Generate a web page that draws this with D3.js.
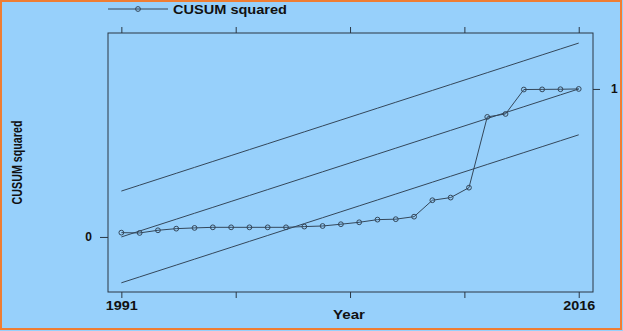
<!DOCTYPE html>
<html>
<head>
<meta charset="utf-8">
<script src="https://cdn.jsdelivr.net/npm/d3@7"></script>
<style>
  html, body { margin: 0; padding: 0; background: #97d0fb; }
  svg { display: block; }
  .axis path, .axis line { stroke: #2a3744; stroke-width: 1; }
  .axis text { font-family: "Liberation Sans", Arial, sans-serif; font-weight: bold; font-size: 12px; fill: #111; }
</style>
</head>
<body>
<svg id="chart" width="623" height="331"></svg>
<script>
// CUSUM of squares test, 1991-2016
const years = d3.range(1991, 2017);
const cusumSq = [
  0.029, 0.027, 0.045, 0.056, 0.061, 0.065, 0.065, 0.065, 0.065, 0.065,
  0.070, 0.074, 0.086, 0.099, 0.117, 0.120, 0.137, 0.248, 0.266, 0.333,
  0.811, 0.831, 0.996, 0.997, 0.998, 1.000
];
const expected = years.map((y, i) => i / (years.length - 1));
const bandOffset = 0.31;
const xTicks = [1991, 1997.25, 2003.5, 2009.75, 2016];
const xTickLabels = { 1991: '1991', 2016: '2016' };

const WIDTH = 623, HEIGHT = 331;
const MARGIN = { TOP: 33, BOTTOM: 39, LEFT: 108, RIGHT: 30 };
const lineColor = '#34475a';

const svg = d3.select('#chart');

svg.append('rect')
  .attr('x', 1).attr('y', 1)
  .attr('width', WIDTH - 3).attr('height', HEIGHT - 3)
  .attr('fill', '#97d0fb')
  .attr('stroke', '#ef7d33')
  .attr('stroke-width', 2);

const x = d3.scaleLinear()
  .domain([1990.27, 2016.78])
  .range([MARGIN.LEFT, WIDTH - MARGIN.RIGHT]);
const y = d3.scaleLinear()
  .domain([-0.372, 1.378])
  .range([HEIGHT - MARGIN.BOTTOM, MARGIN.TOP]);

const g = svg.append('g');

// box
g.append('rect')
  .attr('x', x.range()[0]).attr('y', y.range()[1])
  .attr('width', x.range()[1] - x.range()[0])
  .attr('height', y.range()[0] - y.range()[1])
  .attr('fill', 'none')
  .attr('stroke', '#2a3744');

const xAxisB = d3.axisBottom(x).tickValues(xTicks).tickSize(6).tickPadding(3)
  .tickFormat(d => xTickLabels[d] || '');
g.append('g').attr('class', 'axis')
  .attr('transform', `translate(0,${y.range()[0]})`)
  .call(xAxisB)
  .call(s => s.select('.domain').remove())
  .call(s => s.selectAll('text')
    .filter(d => xTickLabels[d])
    .attr('textLength', 32)
    .attr('lengthAdjust', 'spacingAndGlyphs'));

g.append('g').attr('class', 'axis')
  .attr('transform', `translate(0,${y.range()[1]})`)
  .call(d3.axisTop(x).tickValues(xTicks).tickSize(6).tickFormat(''))
  .call(s => s.select('.domain').remove());

g.append('g').attr('class', 'axis')
  .attr('transform', `translate(${x.range()[0]},0)`)
  .call(d3.axisLeft(y).tickValues([0]).tickSize(8).tickPadding(8).tickFormat(d3.format('d')))
  .call(s => s.select('.domain').remove());

g.append('g').attr('class', 'axis')
  .attr('transform', `translate(${x.range()[1]},0)`)
  .call(d3.axisRight(y).tickValues([1]).tickSize(7).tickPadding(11).tickFormat(d3.format('d')))
  .call(s => s.select('.domain').remove());

// axis titles
g.append('text')
  .attr('x', 349).attr('y', 319)
  .attr('text-anchor', 'middle')
  .attr('textLength', 32)
  .attr('lengthAdjust', 'spacingAndGlyphs')
  .style('font', 'bold 12px "Liberation Sans", Arial, sans-serif')
  .attr('fill', '#111')
  .text('Year');

g.append('text')
  .attr('transform', `translate(22,${(y.range()[0] + y.range()[1]) / 2}) rotate(-90)`)
  .attr('text-anchor', 'middle')
  .attr('textLength', 84)
  .attr('lengthAdjust', 'spacingAndGlyphs')
  .style('font', 'bold 14px "Liberation Sans", Arial, sans-serif')
  .attr('fill', '#111')
  .text('CUSUM squared');

// bounds and expected line
const line = d3.line().x((d, i) => x(years[i])).y(d => y(d));
[-bandOffset, 0, bandOffset].forEach(off => {
  g.append('path')
    .datum(expected.map(v => v + off))
    .attr('d', line)
    .attr('fill', 'none')
    .attr('stroke', lineColor)
    .attr('stroke-width', 1);
});

// CUSUM squared series
g.append('path')
  .datum(cusumSq)
  .attr('d', line)
  .attr('fill', 'none')
  .attr('stroke', lineColor)
  .attr('stroke-width', 1);

g.selectAll('.pt')
  .data(cusumSq)
  .enter()
  .append('circle')
  .attr('class', 'pt')
  .attr('cx', (d, i) => x(years[i]))
  .attr('cy', d => y(d))
  .attr('r', 2.4)
  .attr('fill', 'none')
  .attr('stroke', lineColor)
  .attr('stroke-width', 1);

// legend
const lg = svg.append('g');
lg.append('line')
  .attr('x1', 108).attr('x2', 168).attr('y1', 9).attr('y2', 9)
  .attr('stroke', lineColor);
lg.append('circle')
  .attr('cx', 138).attr('cy', 9).attr('r', 2.4)
  .attr('fill', 'none').attr('stroke', lineColor);
lg.append('text')
  .attr('x', 173).attr('y', 13.5)
  .attr('textLength', 114)
  .attr('lengthAdjust', 'spacingAndGlyphs')
  .style('font', 'bold 13px "Liberation Sans", Arial, sans-serif')
  .attr('fill', '#111')
  .text('CUSUM squared');
</script>
</body>
</html>
